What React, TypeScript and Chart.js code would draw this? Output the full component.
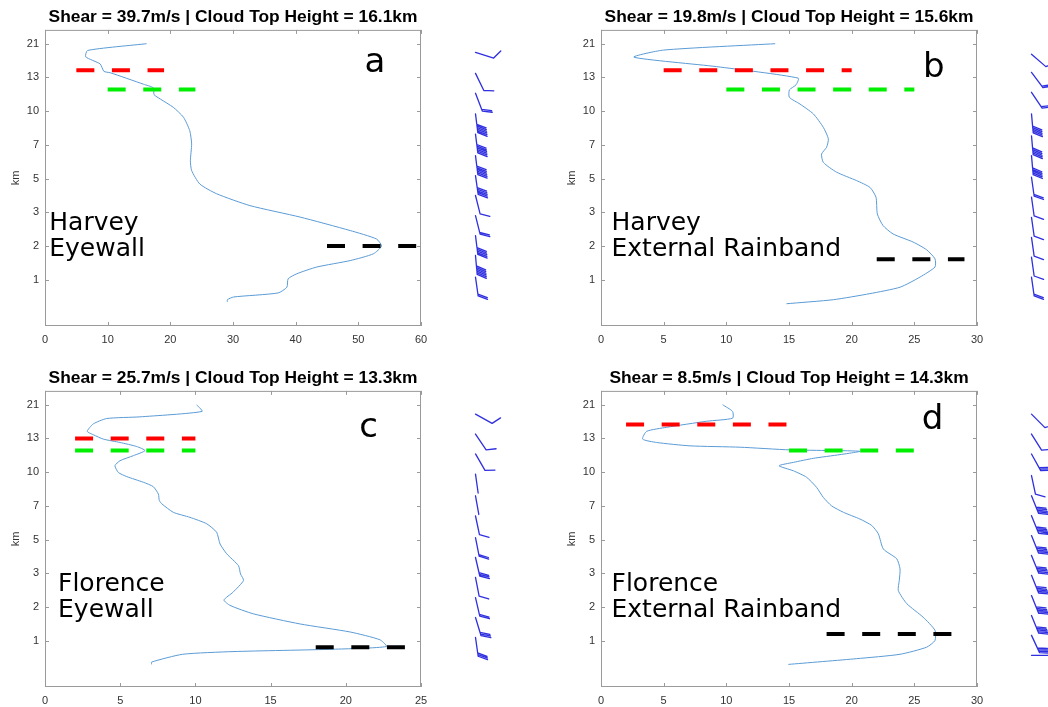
import React, { useEffect, useRef } from 'react';
import { Chart, registerables } from 'chart.js';

Chart.register(...registerables);

// ---------- shared axis data ----------
const yTickValues = [1, 2, 3, 4, 5, 6, 7, 8];
const yTickLabels = ['1', '2', '3', '5', '7', '10', '13', '21'];

// ---------- panel a : Harvey Eyewall ----------
const aTitle = 'Shear = 39.7m/s | Cloud Top Height = 16.1km';
const aSpeed = [16.2, 6.8, 6.5, 8.8, 9.4, 10.4, 15.7, 17.3, 17.4, 18.4, 20.5, 22.1, 23.1, 23.4, 23.2, 23.4, 24.7, 27.4, 32.7, 40.7, 48.7, 52.9, 53.7, 52.4, 48.7, 43.4, 40.2, 38.8, 38.6, 37.2, 30.1, 29.1, 29.1];
const aLevel = [8.0, 7.8, 7.61, 7.4, 7.18, 7.14, 6.8, 6.69, 6.49, 6.36, 6.11, 5.82, 5.42, 5.03, 4.53, 4.24, 3.84, 3.55, 3.2, 2.86, 2.46, 2.21, 2.0, 1.77, 1.57, 1.38, 1.18, 1.03, 0.78, 0.61, 0.49, 0.41, 0.34];
const aRed = [5, 19];
const aRedLevel = 7.21;
const aGreen = [10, 24];
const aGreenLevel = 6.64;
const aBlack = [45, 59.3];
const aBlackLevel = 2.0;
const aLabel = ['Harvey', 'Eyewall'];
const aBarbLevel = [7.74, 7.12, 6.53, 5.92, 5.32, 4.68, 4.09, 3.5, 2.9, 2.31, 1.72, 1.08];
const aBarbAngle = [73, 26, 21, 7, 7, 7, 8, 14, 14, 7, 5, 8];
const aBarbFeathers = [1, 1, 2, 6, 6, 6, 5, 1, 2, 5, 6, 2];

// ---------- panel b : Harvey External Rainband ----------
const bTitle = 'Shear = 19.8m/s | Cloud Top Height = 15.6km';
const bSpeed = [13.9, 4.97, 2.63, 9.23, 15.74, 15.56, 15.03, 15.03, 15.88, 16.94, 17.74, 18.14, 18.0, 17.6, 17.74, 18.8, 20.4, 21.46, 21.94, 22.05, 22.5, 23.3, 24.9, 25.98, 26.65, 26.65, 25.45, 23.86, 21.46, 18.54, 14.8];
const bLevel = [8.0, 7.81, 7.6, 7.32, 6.98, 6.78, 6.63, 6.41, 6.21, 5.92, 5.52, 5.18, 4.93, 4.73, 4.48, 4.19, 3.94, 3.74, 3.45, 2.95, 2.61, 2.36, 2.12, 1.89, 1.62, 1.38, 1.08, 0.78, 0.59, 0.41, 0.29];
const bRed = [5, 20];
const bRedLevel = 7.21;
const bGreen = [10, 25];
const bGreenLevel = 6.64;
const bBlack = [22, 29];
const bBlackLevel = 1.61;
const bLabel = ['Harvey', 'External Rainband'];
const bBarbLevel = [7.69, 7.15, 6.56, 5.92, 5.27, 4.68, 4.04, 3.45, 2.85, 2.26, 1.67, 1.08];
const bBarbAngle = [49, 37, 34, 5, 5, 5, 8, 8, 8, 8, 8, 8];
const bBarbFeathers = [1, 2, 2, 5, 5, 5, 2, 1, 1, 1, 1, 2];

// ---------- panel c : Florence Eyewall ----------
const cTitle = 'Shear = 25.7m/s | Cloud Top Height = 13.3km';
const cSpeed = [10.08, 10.44, 6.32, 4.1, 3.21, 2.81, 3.21, 3.88, 4.99, 6.1, 6.65, 5.88, 4.99, 4.65, 4.88, 5.43, 6.54, 7.2, 7.54, 7.6, 7.77, 8.53, 9.64, 10.75, 11.41, 11.64, 12.08, 12.86, 13.0, 13.2, 12.5, 11.9, 12.3, 13.85, 16.95, 20.3, 22.27, 22.7, 19.17, 12.5, 9.15, 7.09, 7.09];
const cLevel = [8.0, 7.8, 7.64, 7.59, 7.43, 7.21, 7.11, 6.98, 6.88, 6.76, 6.64, 6.49, 6.34, 6.19, 5.99, 5.87, 5.7, 5.57, 5.35, 5.16, 5.06, 4.81, 4.66, 4.47, 4.22, 3.87, 3.58, 3.23, 2.98, 2.79, 2.44, 2.21, 2.05, 1.8, 1.5, 1.26, 1.03, 0.83, 0.75, 0.68, 0.6, 0.37, 0.3];
const cRed = [2, 10];
const cRedLevel = 7.0;
const cGreen = [2, 10];
const cGreenLevel = 6.64;
const cBlack = [18, 24];
const cBlackLevel = 0.81;
const cLabel = ['Florence', 'Eyewall'];
const cBarbLevel = [7.72, 7.13, 6.54, 5.94, 5.3, 4.7, 4.06, 3.47, 2.88, 2.28, 1.69, 1.1];
const cBarbAngle = [61, 34, 30, 8, 10, 12, 11, 13, 11, 13, 17, 8];
const cBarbFeathers = [1, 1, 1, 0, 0, 1, 2, 3, 1, 2, 3, 3];

// ---------- panel d : Florence External Rainband ----------
const dTitle = 'Shear = 8.5m/s | Cloud Top Height = 14.3km';
const dSpeed = [9.7, 10.5, 10.5, 8.43, 5.24, 3.64, 3.32, 4.44, 7.1, 11.1, 15.08, 20.66, 19.07, 16.94, 15.35, 14.2, 15.35, 16.4, 17.2, 17.74, 18.4, 19.34, 20.66, 21.6, 22.13, 22.53, 23.6, 23.86, 23.8, 23.72, 24.4, 25.7, 26.65, 26.65, 25.98, 23.86, 20.4, 14.95];
const dLevel = [8.0, 7.8, 7.6, 7.51, 7.33, 7.21, 6.98, 6.88, 6.78, 6.74, 6.66, 6.62, 6.52, 6.41, 6.29, 6.19, 6.04, 5.85, 5.55, 5.25, 5.0, 4.81, 4.61, 4.42, 4.17, 3.72, 3.43, 3.13, 2.79, 2.49, 2.1, 1.7, 1.31, 1.01, 0.81, 0.6, 0.47, 0.3];
const dRed = [2, 15];
const dRedLevel = 7.41;
const dGreen = [15, 25];
const dGreenLevel = 6.64;
const dBlack = [18, 28];
const dBlackLevel = 1.2;
const dLabel = ['Florence', 'External Rainband'];
const dBarbLevel = [7.72, 7.13, 6.54, 5.9, 5.3, 4.71, 4.12, 3.53, 2.94, 2.34, 1.75, 1.16, 0.57];
const dBarbAngle = [45, 32, 29, 12, 22, 22, 22, 22, 22, 22, 22, 25, 90];
const dBarbFeathers = [1, 1, 3, 1, 5, 5, 5, 5, 5, 5, 5, 4, 0];

const FONT = '"Liberation Sans", Arial, Helvetica, sans-serif';
const ANNOT_FONT = '"DejaVu Sans", sans-serif';

const panels = [
  { key: 'a', title: aTitle, xMax: 60, xStep: 10, speed: aSpeed, level: aLevel, red: aRed, redLevel: aRedLevel, green: aGreen, greenLevel: aGreenLevel, black: aBlack, blackLevel: aBlackLevel, label: aLabel, letter: 'a', letterX: 51, letterY: 7.15, barbLevel: aBarbLevel, barbAngle: aBarbAngle, barbFeathers: aBarbFeathers, left: 0, top: 0, width: 524, height: 350, padRight: 103, xAxisH: 24 },
  { key: 'b', title: bTitle, xMax: 30, xStep: 5, speed: bSpeed, level: bLevel, red: bRed, redLevel: bRedLevel, green: bGreen, greenLevel: bGreenLevel, black: bBlack, blackLevel: bBlackLevel, label: bLabel, letter: 'b', letterX: 25.7, letterY: 7.02, barbLevel: bBarbLevel, barbAngle: bBarbAngle, barbFeathers: bBarbFeathers, left: 556, top: 0, width: 492, height: 350, padRight: 71, xAxisH: 24 },
  { key: 'c', title: cTitle, xMax: 25, xStep: 5, speed: cSpeed, level: cLevel, red: cRed, redLevel: cRedLevel, green: cGreen, greenLevel: cGreenLevel, black: cBlack, blackLevel: cBlackLevel, label: cLabel, letter: 'c', letterX: 20.9, letterY: 7.03, barbLevel: cBarbLevel, barbAngle: cBarbAngle, barbFeathers: cBarbFeathers, left: 0, top: 361, width: 524, height: 346, padRight: 103, xAxisH: 20 },
  { key: 'd', title: dTitle, xMax: 30, xStep: 5, speed: dSpeed, level: dLevel, red: dRed, redLevel: dRedLevel, green: dGreen, greenLevel: dGreenLevel, black: dBlack, blackLevel: dBlackLevel, label: dLabel, letter: 'd', letterX: 25.6, letterY: 7.28, barbLevel: dBarbLevel, barbAngle: dBarbAngle, barbFeathers: dBarbFeathers, left: 556, top: 361, width: 492, height: 346, padRight: 71, xAxisH: 20 },
];

function makeOverlay(p: any) {
  return {
    id: 'overlay_' + p.key,
    afterDatasetsDraw(chart: any) {
      const { ctx, chartArea: ca, scales } = chart;
      const xs = scales.x;
      const ys = scales.y;
      ctx.save();
      // axes box
      ctx.strokeStyle = '#9a9a9a';
      ctx.lineWidth = 1;
      ctx.strokeRect(ca.left + 0.5, ca.top + 0.5, ca.right - ca.left - 1, ca.bottom - ca.top - 1);
      // inward tick marks on all four sides
      ctx.beginPath();
      xs.ticks.forEach((t: any) => {
        const px = Math.round(xs.getPixelForValue(t.value)) + 0.5;
        ctx.moveTo(px, ca.bottom);
        ctx.lineTo(px, ca.bottom - 4);
        ctx.moveTo(px, ca.top);
        ctx.lineTo(px, ca.top + 4);
      });
      ys.ticks.forEach((t: any) => {
        const py = Math.round(ys.getPixelForValue(t.value)) + 0.5;
        ctx.moveTo(ca.left, py);
        ctx.lineTo(ca.left + 4, py);
        ctx.moveTo(ca.right, py);
        ctx.lineTo(ca.right - 4, py);
      });
      ctx.stroke();

      // annotation text
      ctx.fillStyle = '#000';
      ctx.textBaseline = 'alphabetic';
      ctx.textAlign = 'left';
      ctx.font = '25px ' + ANNOT_FONT;
      const lx = xs.getPixelForValue(1) - 2;
      const ly = ys.getPixelForValue(2.47);
      ctx.fillText(p.label[0], lx, ly);
      ctx.fillText(p.label[1], lx, ly + 26);
      ctx.font = '34px ' + ANNOT_FONT;
      ctx.fillText(p.letter, xs.getPixelForValue(p.letterX), ys.getPixelForValue(p.letterY));

      // wind barbs to the right of the axes
      const bx = ca.right + 54.5;
      const shaft = 19;
      const fLen = 10;
      const fGap = 1.7;
      const rot = (-62 * Math.PI) / 180;
      ctx.strokeStyle = '#2f2fe0';
      ctx.lineWidth = 1.3;
      ctx.lineCap = 'round';
      p.barbLevel.forEach((lv: number, i: number) => {
        const th = (p.barbAngle[i] * Math.PI) / 180;
        const dx = Math.sin(th);
        const dy = Math.cos(th);
        const y0 = ys.getPixelForValue(lv);
        const ex = bx + shaft * dx;
        const ey = y0 + shaft * dy;
        ctx.beginPath();
        ctx.moveTo(bx, y0);
        ctx.lineTo(ex, ey);
        const fx = dx * Math.cos(rot) - dy * Math.sin(rot);
        const fy = dx * Math.sin(rot) + dy * Math.cos(rot);
        for (let k = 0; k < p.barbFeathers[i]; k++) {
          const sx = ex - k * fGap * dx;
          const sy = ey - k * fGap * dy;
          ctx.moveTo(sx, sy);
          ctx.lineTo(sx + fLen * fx, sy + fLen * fy);
        }
        ctx.stroke();
      });
      ctx.restore();
    },
  };
}

function dashSet(range: number[], level: number, color: string) {
  return {
    data: [
      { x: range[0], y: level },
      { x: range[1], y: level },
    ],
    showLine: true,
    borderColor: color,
    borderWidth: 4,
    borderDash: [18, 17.6],
    borderCapStyle: 'butt',
    pointRadius: 0,
    fill: false,
  };
}

function buildConfig(p: any): any {
  return {
    type: 'scatter',
    data: {
      datasets: [
        dashSet(p.red, p.redLevel, '#ff0000'),
        dashSet(p.green, p.greenLevel, '#00ee00'),
        dashSet(p.black, p.blackLevel, '#000000'),
        {
          data: p.speed.map((s: number, i: number) => ({ x: s, y: p.level[i] })),
          showLine: true,
          borderColor: '#5b9bd5',
          borderWidth: 1,
          pointRadius: 0,
          tension: 0.2,
          fill: false,
        },
      ],
    },
    options: {
      animation: false,
      responsive: false,
      events: [],
      layout: { padding: { left: 0, right: p.padRight, top: 0, bottom: 0 } },
      plugins: {
        legend: { display: false },
        tooltip: { enabled: false },
        title: {
          display: true,
          text: p.title,
          fullSize: false,
          color: '#000',
          font: { family: FONT, size: 17.4, weight: 'bold' },
          padding: { top: 7, bottom: 2 },
        },
      },
      scales: {
        x: {
          type: 'linear',
          min: 0,
          max: p.xMax,
          ticks: { stepSize: p.xStep, color: '#333', font: { family: FONT, size: 11 }, padding: 7, maxRotation: 0 },
          grid: { display: false, drawTicks: false },
          border: { display: false },
          afterFit: (s: any) => {
            s.height = p.xAxisH;
          },
        },
        y: {
          type: 'linear',
          min: -0.37,
          max: 8.41,
          afterBuildTicks: (s: any) => {
            s.ticks = yTickValues.map((v) => ({ value: v }));
          },
          ticks: {
            callback: (v: any) => {
              const i = yTickValues.indexOf(Number(v));
              return i >= 0 ? yTickLabels[i] : '';
            },
            color: '#333',
            font: { family: FONT, size: 11 },
            padding: 6,
          },
          grid: { display: false, drawTicks: false },
          border: { display: false },
          title: { display: true, text: 'km', color: '#333', font: { family: FONT, size: 11 }, padding: { top: 9, bottom: 0 } },
          afterFit: (s: any) => {
            s.width = 45;
          },
        },
      },
    },
    plugins: [makeOverlay(p)],
  };
}

function Panel({ p }: { p: any }) {
  const ref = useRef<HTMLCanvasElement>(null);
  useEffect(() => {
    const chart = new Chart(ref.current as HTMLCanvasElement, buildConfig(p));
    return () => chart.destroy();
  }, []);
  return (
    <canvas
      ref={ref}
      width={p.width}
      height={p.height}
      style={{ position: 'absolute', left: p.left, top: p.top, width: p.width, height: p.height }}
    />
  );
}

export default function App() {
  return (
    <div
      style={{
        position: 'absolute',
        left: 0,
        top: 0,
        width: 1048,
        height: 707,
        overflow: 'hidden',
        background: '#fff',
      }}
    >
      {panels.map((p) => (
        <Panel key={p.key} p={p} />
      ))}
    </div>
  );
}
